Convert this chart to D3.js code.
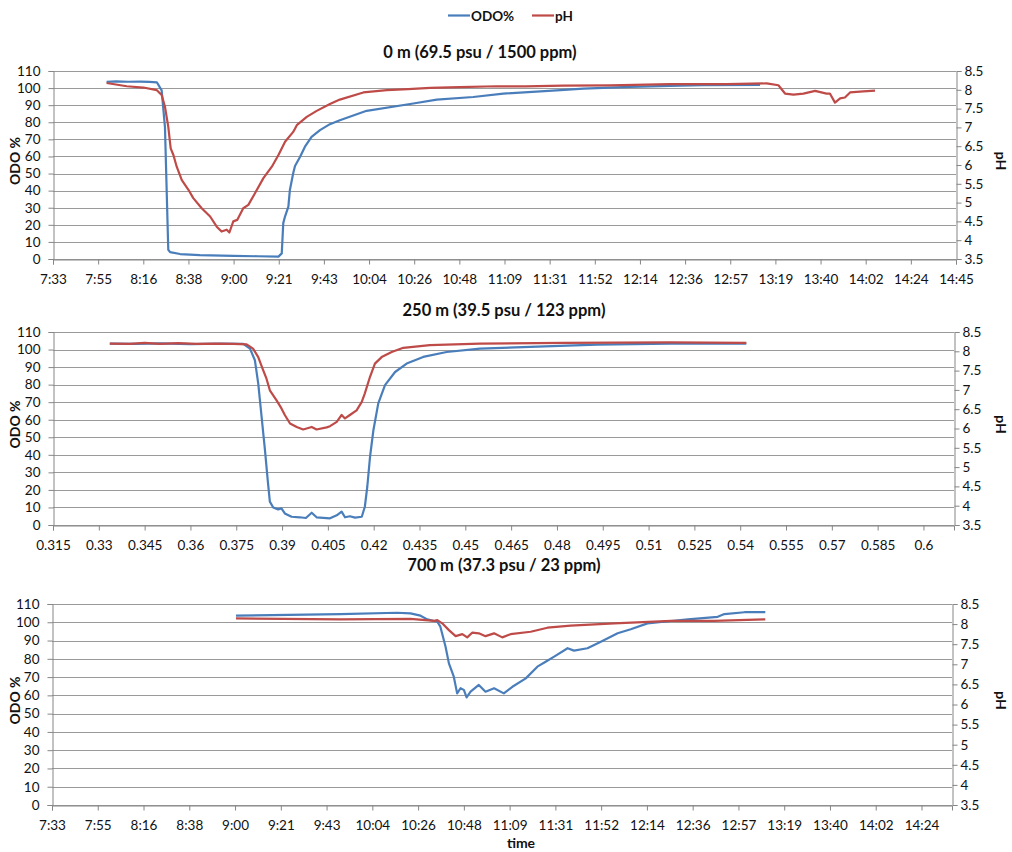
<!DOCTYPE html>
<html><head><meta charset="utf-8">
<script src="https://cdn.jsdelivr.net/npm/d3@7/dist/d3.min.js"></script>
<style>
body{margin:0;background:#fff}
text{font-family:Lato,'Liberation Sans',sans-serif;fill:#111}
</style>
</head><body>
<svg id="chart" width="1012" height="852"></svg>
<script>
// ---------- DATA ----------
const seriesNames = ["ODO%", "pH"];
const panelTitles = ["0 m (69.5 psu / 1500 ppm)", "250 m (39.5 psu / 123 ppm)", "700 m (37.3 psu / 23 ppm)"];

const xTickValues = [0.315,0.33,0.345,0.36,0.375,0.39,0.405,0.42,0.435,0.45,0.465,0.48,0.495,0.51,0.525,0.54,0.555,0.57,0.585,0.6,0.615];
const timeTickLabels = ["7:33","7:55","8:16","8:38","9:00","9:21","9:43","10:04","10:26","10:48","11:09","11:31","11:52","12:14","12:36","12:57","13:19","13:40","14:02","14:24","14:45"];
const numTickLabels = ["0.315","0.33","0.345","0.36","0.375","0.39","0.405","0.42","0.435","0.45","0.465","0.48","0.495","0.51","0.525","0.54","0.555","0.57","0.585","0.6"];
const odoTicks = [0,10,20,30,40,50,60,70,80,90,100,110];
const phTicks = [3.5,4,4.5,5,5.5,6,6.5,7,7.5,8,8.5];
const phTickLabels = ["3.5","4","4.5","5","5.5","6","6.5","7","7.5","8","8.5"];

// 0 m : [time (fraction of day), value]
const odo0m = [[0.3328,103.6],[0.3360,103.9],[0.3400,103.7],[0.3440,103.8],[0.3470,103.6],[0.3495,103.4],[0.3511,98.7],[0.3522,77],[0.3533,5.4],[0.3539,4.0],[0.3572,2.9],[0.3638,2.3],[0.3749,1.8],[0.3830,1.6],[0.3899,1.4],[0.3910,3.3],[0.3915,21.0],[0.3921,25],[0.3932,30.7],[0.3937,40.4],[0.3948,50.2],[0.3954,54.4],[0.3971,59.8],[0.3987,65.7],[0.4009,71.5],[0.4037,75.4],[0.4070,78.9],[0.4103,81.2],[0.4192,86.7],[0.4347,91],[0.4425,93.3],[0.4546,94.8],[0.4646,96.8],[0.4823,98.7],[0.4912,99.7],[0.5067,100.7],[0.5200,101.3],[0.5309,101.7],[0.5499,101.8]];
const ph0m = [[0.3328,8.18],[0.3395,8.095],[0.3450,8.06],[0.3495,7.99],[0.3511,7.86],[0.3522,7.55],[0.3533,7.015],[0.3541,6.44],[0.3550,6.265],[0.3561,5.955],[0.3578,5.60],[0.3600,5.34],[0.3616,5.12],[0.3644,4.85],[0.3672,4.63],[0.3694,4.36],[0.3710,4.23],[0.3727,4.28],[0.3736,4.205],[0.3749,4.50],[0.3762,4.54],[0.3782,4.85],[0.3799,4.94],[0.3821,5.25],[0.3849,5.65],[0.3877,5.955],[0.3899,6.265],[0.3921,6.62],[0.3948,6.88],[0.3960,7.06],[0.3993,7.28],[0.4026,7.44],[0.4070,7.62],[0.4103,7.74],[0.4181,7.93],[0.4259,7.99],[0.4330,8.02],[0.4403,8.05],[0.4500,8.07],[0.4624,8.095],[0.4720,8.09],[0.4845,8.11],[0.5000,8.12],[0.5200,8.15],[0.5388,8.15],[0.5521,8.17],[0.5560,8.12],[0.5582,7.90],[0.5610,7.87],[0.5643,7.90],[0.5682,7.97],[0.5720,7.90],[0.5731,7.90],[0.5748,7.66],[0.5765,7.77],[0.5781,7.795],[0.5798,7.93],[0.5842,7.96],[0.5881,7.98]];

// 250 m : [x value, value]
const odo250m = [[0.3336,103.4],[0.3420,103.2],[0.3500,103.5],[0.3600,103.1],[0.3700,103.4],[0.3773,103.2],[0.3795,100.5],[0.3811,93.9],[0.3822,80.6],[0.3833,61.6],[0.3844,42.7],[0.3853,25.6],[0.3860,13.3],[0.3871,10],[0.3887,8.9],[0.3898,9.5],[0.3909,6.6],[0.3931,4.7],[0.3958,4.4],[0.3978,4.0],[0.3997,7.0],[0.4013,4.4],[0.4057,3.8],[0.4079,5.5],[0.4095,7.6],[0.4106,4.4],[0.4122,5.0],[0.4139,4.2],[0.4161,4.7],[0.4171,10.4],[0.4179,21.8],[0.4188,38.9],[0.4199,54],[0.4215,69.3],[0.4237,79.7],[0.4270,87.2],[0.4308,92],[0.4362,95.8],[0.4439,98.6],[0.4548,100.5],[0.4712,101.5],[0.4931,102.8],[0.5171,103.4],[0.5420,103.4]];
const ph250m = [[0.3336,8.20],[0.3400,8.19],[0.3450,8.22],[0.3500,8.19],[0.3560,8.21],[0.3620,8.19],[0.3680,8.20],[0.3740,8.19],[0.3784,8.18],[0.3805,8.07],[0.3822,7.85],[0.3838,7.51],[0.3849,7.29],[0.3860,6.99],[0.3871,6.86],[0.3882,6.73],[0.3898,6.52],[0.3909,6.35],[0.3926,6.13],[0.3948,6.04],[0.3969,5.975],[0.3997,6.04],[0.4013,5.975],[0.4046,6.03],[0.4057,6.06],[0.4079,6.17],[0.4095,6.35],[0.4106,6.26],[0.4122,6.35],[0.4144,6.47],[0.4161,6.69],[0.4171,6.91],[0.4188,7.34],[0.4204,7.68],[0.4226,7.85],[0.4259,7.98],[0.4297,8.09],[0.4384,8.16],[0.4548,8.20],[0.4821,8.22],[0.5171,8.23],[0.5420,8.22]];

// 700 m : [time (fraction of day), value]
const odo700m = [[0.3753,103.6],[0.4095,104.5],[0.4281,105.2],[0.4325,104.9],[0.4358,103.6],[0.4380,101.6],[0.4413,100.3],[0.4423,97.6],[0.4440,86.6],[0.4451,77.5],[0.4467,70.2],[0.4478,61.1],[0.4489,63.9],[0.4500,63.0],[0.4509,58.9],[0.4522,62],[0.4549,65.7],[0.4571,62],[0.4599,63.9],[0.4631,61.1],[0.4659,64.7],[0.4703,69.3],[0.4741,75.7],[0.4768,78.4],[0.4796,81.2],[0.4840,85.8],[0.4861,84.5],[0.4905,85.8],[0.4949,89.4],[0.5004,94],[0.5047,96.2],[0.5102,99.4],[0.5179,100.7],[0.5234,101.6],[0.5332,103],[0.5354,104.5],[0.5420,105.5],[0.5488,105.5]];
const ph700m = [[0.3753,8.14],[0.4095,8.12],[0.4325,8.13],[0.4403,8.08],[0.4413,8.10],[0.4429,8.02],[0.4451,7.85],[0.4473,7.70],[0.4495,7.75],[0.4511,7.67],[0.4528,7.79],[0.4549,7.77],[0.4571,7.70],[0.4599,7.77],[0.4626,7.67],[0.4653,7.75],[0.4719,7.81],[0.4774,7.91],[0.4850,7.96],[0.4993,8.02],[0.5179,8.08],[0.5321,8.08],[0.5488,8.12]];

// ---------- LAYOUT ----------
const colors = {odo:"#4a7ebb", ph:"#be4b48"};
const panels = [
  {title:panelTitles[0], odo:odo0m, ph:ph0m, l:53, r:956, t:71, b:259, xMax:0.615, nTicks:21, labels:timeTickLabels, titleX:480, titleY:58},
  {title:panelTitles[1], odo:odo250m, ph:ph250m, l:53, r:954, t:332, b:525, xMax:0.61, nTicks:20, labels:numTickLabels, titleX:504, titleY:316},
  {title:panelTitles[2], odo:odo700m, ph:ph700m, l:52, r:952, t:604, b:805, xMax:0.61, nTicks:20, labels:timeTickLabels, titleX:504, titleY:571}
];

const svg = d3.select("#chart");
const gridColor = "#9a9a9a", axisColor = "#868686";

panels.forEach(p => {
  const g = svg.append("g");
  const x = d3.scaleLinear().domain([0.315, p.xMax]).range([p.l, p.r]);
  const yO = d3.scaleLinear().domain([0, 110]).range([p.b, p.t]);
  const yP = d3.scaleLinear().domain([3.5, 8.5]).range([p.b, p.t]);

  // gridlines
  g.append("g").selectAll("line").data(odoTicks).join("line")
    .attr("x1", p.l).attr("x2", p.r)
    .attr("y1", d => Math.round(yO(d)) + 0.5).attr("y2", d => Math.round(yO(d)) + 0.5)
    .attr("stroke", gridColor).attr("stroke-width", 1);

  const la = g.append("g").attr("transform", `translate(${p.l + 0.5},0)`)
    .call(d3.axisLeft(yO).tickValues(odoTicks).tickSize(5).tickPadding(8).tickFormat(d3.format("d")));
  const ra = g.append("g").attr("transform", `translate(${p.r + 0.5},0)`)
    .call(d3.axisRight(yP).tickValues(phTicks).tickSize(5).tickPadding(3).tickFormat((d, i) => phTickLabels[i]));
  const tv = xTickValues.slice(0, p.nTicks);
  const ba = g.append("g").attr("transform", `translate(0,${Math.round(yO(0)) + 0.5})`)
    .call(d3.axisBottom(x).tickValues(tv).tickSize(5).tickPadding(10).tickFormat((d, i) => p.labels[i]));

  [la, ra, ba].forEach(a => {
    a.select(".domain").attr("stroke", axisColor);
    a.selectAll(".tick line").attr("stroke", axisColor);
    a.selectAll(".tick text").attr("font-size", 13.5).attr("fill", "#111");
  });

  const lineO = d3.line().x(d => x(d[0])).y(d => yO(d[1]));
  const lineP = d3.line().x(d => x(d[0])).y(d => yP(d[1]));
  g.append("path").datum(p.odo).attr("d", lineO).attr("fill", "none")
    .attr("stroke", colors.odo).attr("stroke-width", 2.2).attr("stroke-linejoin", "round");
  g.append("path").datum(p.ph).attr("d", lineP).attr("fill", "none")
    .attr("stroke", colors.ph).attr("stroke-width", 2.2).attr("stroke-linejoin", "round");

  g.append("text").attr("x", p.titleX).attr("y", p.titleY).attr("text-anchor", "middle")
    .attr("font-size", 16.5).attr("font-weight", "bold").text(p.title);
  const cy = (p.t + p.b) / 2 - 4;
  g.append("text").attr("transform", `translate(20,${cy}) rotate(-90)`).attr("text-anchor", "middle")
    .attr("font-size", 14).attr("font-weight", "bold").text("ODO %");
  g.append("text").attr("transform", `translate(996,${cy}) rotate(90)`).attr("text-anchor", "middle")
    .attr("font-size", 14).attr("font-weight", "bold").text("pH");
});

svg.append("text").attr("x", 521).attr("y", 848).attr("text-anchor", "middle")
  .attr("font-size", 14).attr("font-weight", "bold").text("time");

// legend
const lg = svg.append("g");
const legendItems = [{name:seriesNames[0], c:colors.odo, x:448}, {name:seriesNames[1], c:colors.ph, x:532}];
legendItems.forEach(it => {
  lg.append("line").attr("x1", it.x).attr("x2", it.x + 22).attr("y1", 15.5).attr("y2", 15.5)
    .attr("stroke", it.c).attr("stroke-width", 2.2);
  lg.append("text").attr("x", it.x + 23).attr("y", 20.5).attr("font-size", 13.5).attr("font-weight", "bold").text(it.name);
});
</script>
</body></html>
